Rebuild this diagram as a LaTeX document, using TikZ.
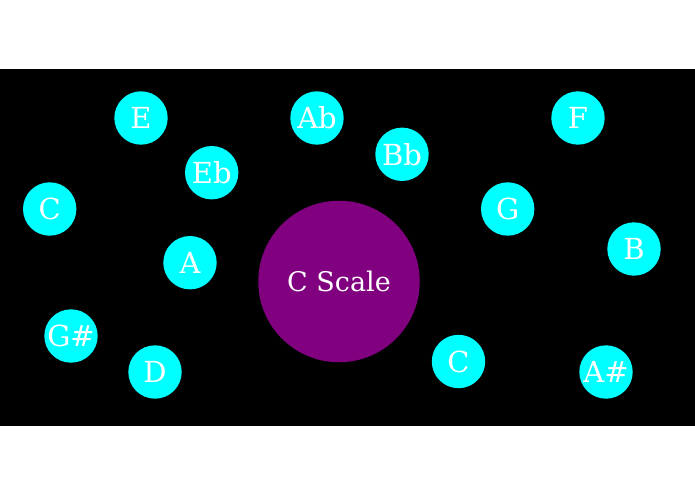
\documentclass[tikz,border=0pt]{standalone}
\usepackage{fontspec}
\setmainfont{DejaVu Serif}
\definecolor{notecyan}{HTML}{00FFFF}
\definecolor{scalepurple}{HTML}{800080}
\tikzset{
  note/.style={circle, fill=notecyan, draw=none, minimum size=53.4pt, inner sep=0pt,
    text=white, font=\fontsize{29}{34}\selectfont},
  centre/.style={circle, fill=scalepurple, draw=none, minimum size=161.5pt, inner sep=0pt,
    text=white, font=\fontsize{27}{32}\selectfont}
}
\begin{document}
\begin{tikzpicture}[x=1pt,y=-1pt]
\useasboundingbox (0,0) rectangle (695,494);
\fill[white] (0,0) rectangle (695,494);
\fill[black] (0,69) rectangle (695,426);
\node[centre] (scale) at (339,281.5) {C Scale};
\node[note] (e)   at (141,118)   {E};
\node[note] (ab)  at (317,118)   {Ab};
\node[note] (eb)  at (211.7,172.7) {Eb};
\node[note] (c1)  at (49.7,209)  {C};
\node[note] (a)   at (190,262.7) {A};
\node[note] (bb)  at (402,154.3) {Bb};
\node[note] (f)   at (578,118)   {F};
\node[note] (g)   at (507.7,209) {G};
\node[note] (b)   at (634,249)   {B};
\node[note] (gs)  at (71,336)    {G\#};
\node[note] (d)   at (155,372)   {D};
\node[note] (c2)  at (458.5,361.5) {C};
\node[note] (as)  at (606,372)   {A\#};
\end{tikzpicture}
\end{document}
